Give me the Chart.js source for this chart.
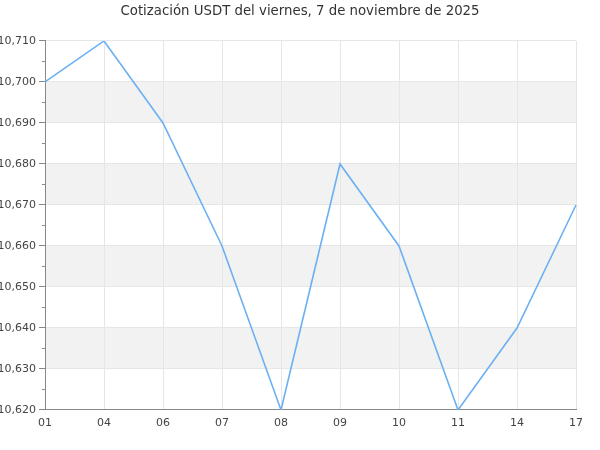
<!DOCTYPE html>
<html>
<head>
<meta charset="utf-8">
<script src="https://cdn.jsdelivr.net/npm/chart.js@4"></script>
<style>
html,body{margin:0;padding:0;background:#fff;}
#wrap{width:600px;height:450px;}
</style>
</head>
<body>
<div id="wrap"><canvas id="c" width="600" height="450"></canvas></div>
<script>
const titleText = 'Cotización USDT del viernes, 7 de noviembre de 2025';
const categories = ['01','04','06','07','08','09','10','11','14','17'];
const prices = [10.700, 10.710, 10.690, 10.660, 10.620, 10.680, 10.660, 10.620, 10.640, 10.670];
const yMin = 10.620, yMax = 10.710, yStep = 0.010;
const bandRanges = [[10.690,10.700],[10.670,10.680],[10.650,10.660],[10.630,10.640]];
const minorTicks = [10.625,10.635,10.645,10.655,10.665,10.675,10.685,10.695,10.705];

const fontFamily = '"DejaVu Sans", sans-serif';

const bandsPlugin = {
  id: 'bands',
  beforeDraw(chart) {
    const {ctx, chartArea, scales} = chart;
    const y = scales.y;
    ctx.save();
    ctx.fillStyle = '#f2f2f2';
    bandRanges.forEach(([a,b]) => {
      const y1 = y.getPixelForValue(b), y2 = y.getPixelForValue(a);
      ctx.fillRect(chartArea.left, y1, chartArea.right - chartArea.left, y2 - y1);
    });
    ctx.restore();
  },
  afterDraw(chart) {
    const {ctx, chartArea, scales} = chart;
    const y = scales.y;
    ctx.save();
    ctx.strokeStyle = '#888888';
    ctx.lineWidth = 1;
    minorTicks.forEach(v => {
      const py = Math.round(y.getPixelForValue(v)) + 0.5;
      ctx.beginPath();
      ctx.moveTo(chartArea.left - 3, py);
      ctx.lineTo(chartArea.left, py);
      ctx.stroke();
    });
    ctx.restore();
  }
};

new Chart(document.getElementById('c'), {
  type: 'line',
  data: {
    labels: categories,
    datasets: [{
      data: prices,
      borderColor: '#6cb0f3',
      borderWidth: 1.6,
      pointRadius: 0,
      tension: 0,
      fill: false,
      yAxisID: 'y'
    }]
  },
  options: {
    responsive: false,
    animation: false,
    layout: { padding: 0 },
    plugins: {
      legend: { display: false },
      tooltip: { enabled: false },
      title: {
        display: true,
        text: titleText,
        color: '#333333',
        font: { family: fontFamily, size: 13.3, weight: 'normal' },
        padding: { top: 4, bottom: 21 }
      }
    },
    scales: {
      x: {
        offset: false,
        grid: { color: '#e6e6e6', drawTicks: false },
        border: { color: '#888888', width: 1 },
        ticks: { color: '#444444', font: { family: fontFamily, size: 11 }, padding: 7, maxRotation: 0, autoSkip: false },
        afterFit(scale) { scale.height = 40; }
      },
      y: {
        min: yMin,
        max: yMax,
        grid: { color: '#e6e6e6', tickColor: '#888888', tickLength: 6 },
        border: { color: '#888888', width: 1 },
        ticks: {
          stepSize: yStep,
          color: '#444444',
          font: { family: fontFamily, size: 11 },
          padding: 3,
          callback: v => v.toFixed(3).replace('.', ',')
        },
        afterFit(scale) { scale.width = 45; }
      },
      yRight: {
        position: 'right',
        min: yMin,
        max: yMax,
        grid: { display: false, drawTicks: false },
        border: { display: false },
        ticks: { display: false },
        afterFit(scale) { scale.width = 24; }
      }
    }
  },
  plugins: [bandsPlugin]
});
</script>
</body>
</html>
